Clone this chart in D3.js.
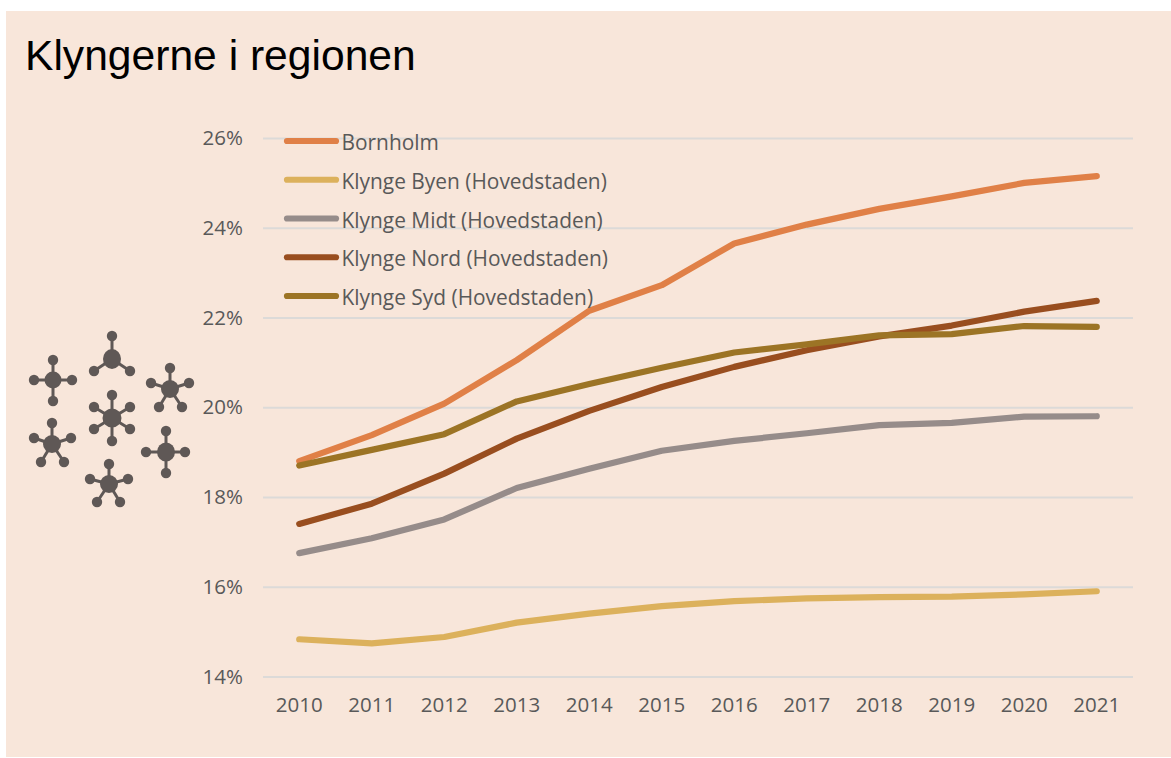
<!DOCTYPE html>
<html><head><meta charset="utf-8">
<script src="https://cdn.jsdelivr.net/npm/d3@7"></script>
<style>html,body{margin:0;padding:0;background:#fff;overflow:hidden}svg{display:block}</style>
</head><body><svg id="c" width="1171" height="758"></svg>
<script>
const years = ["2010","2011","2012","2013","2014","2015","2016","2017","2018","2019","2020","2021"];
const yTicks = [14,16,18,20,22,24,26];
const seriesNames = ["Bornholm","Klynge Byen (Hovedstaden)","Klynge Midt (Hovedstaden)","Klynge Nord (Hovedstaden)","Klynge Syd (Hovedstaden)"];
const seriesColors = ["#e08047","#dcb15c","#968c8a","#994e1f","#9c7425"];
const bornholm = [18.8,19.38,20.08,21.05,22.15,22.72,23.65,24.07,24.42,24.7,25.0,25.15];
const byen = [14.83,14.74,14.88,15.2,15.4,15.57,15.68,15.74,15.77,15.78,15.83,15.9];
const midt = [16.75,17.08,17.5,18.2,18.63,19.03,19.25,19.42,19.6,19.65,19.79,19.8];
const nord = [17.4,17.85,18.52,19.3,19.92,20.45,20.9,21.27,21.58,21.82,22.13,22.37];
const syd = [18.7,19.05,19.4,20.13,20.52,20.88,21.22,21.4,21.6,21.63,21.81,21.79];
const allSeries = [bornholm,byen,midt,nord,syd];
const iconCenters = [[53,380,8,8],[112,359,8.5,9.5],[170,389,8.5,8.5],[112,418,9,9],[52,444,8.5,8.5],[166,452,8.5,9],[109,484,8.5,8.5]];
const iconSats = [
 [[53,360],[34,380],[72,380],[53,401]],
 [[112,336],[94,371],[130,371]],
 [[170,368],[151,383],[189,383],[159,407],[182,407]],
 [[112,395],[94,407],[130,407],[94,429],[130,429],[112,441]],
 [[52,423],[34,438],[71,438],[41,462],[64,462]],
 [[166,431],[146,452],[185,452],[166,473]],
 [[109,464],[90,479],[128,479],[97,502],[120,502]]
];
const svg = d3.select("#c");
const sans = "'Open Sans','Noto Sans',sans-serif";
svg.append("rect").attr("x",6).attr("y",11).attr("width",1165).attr("height",746).attr("fill","#f8e6da");
svg.append("text").attr("x",25).attr("y",70).attr("font-family","'Liberation Sans',Arial,sans-serif").attr("font-size",42.6).attr("fill","#000").text("Klyngerne i regionen");

const x = d3.scaleBand().domain(years).range([263,1133]);
const y = d3.scaleLinear().domain([14,26]).range([676.5,138]);

const yAxis = svg.append("g").attr("transform","translate(263,0)")
  .call(d3.axisLeft(y).tickValues(yTicks).tickSize(-870).tickPadding(20).tickFormat(d=>d+"%"));
yAxis.select(".domain").remove();
yAxis.selectAll("line").attr("stroke","#dcdad8").attr("stroke-width",2);
const xAxis = svg.append("g").attr("transform","translate(0,676.5)")
  .call(d3.axisBottom(x).tickSize(0).tickPadding(21));
xAxis.select(".domain").remove();
[yAxis,xAxis].forEach(a=>a.selectAll("text").attr("font-family",sans).attr("font-size",20.5).attr("fill","#595959"));

const line = d3.line().x((d,i)=>x(years[i])+x.bandwidth()/2).y(d=>y(d)).curve(d3.curveLinear);
svg.append("g").selectAll("path").data(allSeries).join("path")
  .attr("d",line).attr("fill","none").attr("stroke",(d,i)=>seriesColors[i])
  .attr("stroke-width",6.2).attr("stroke-linecap","round").attr("stroke-linejoin","round");

const legY = d3.scalePoint().domain(seriesNames).range([141,296]);
const leg = svg.append("g").selectAll("g").data(seriesNames).join("g").attr("transform",d=>`translate(0,${legY(d)})`);
leg.append("line").attr("x1",287).attr("x2",336).attr("stroke",(d,i)=>seriesColors[i]).attr("stroke-width",6.2).attr("stroke-linecap","round");
leg.append("text").attr("x",341.5).attr("y",9).attr("font-family",sans).attr("font-size",20.9).attr("fill","#595959").text(d=>d);

const icons = svg.append("g").attr("fill","#5f5856").attr("stroke","#5f5856");
iconCenters.forEach((c,i)=>{
  const g = icons.append("g");
  g.selectAll("line").data(iconSats[i]).join("line")
    .attr("x1",c[0]).attr("y1",c[1]).attr("x2",d=>d[0]).attr("y2",d=>d[1]).attr("stroke-width",3);
  g.selectAll("circle").data(iconSats[i]).join("circle")
    .attr("cx",d=>d[0]).attr("cy",d=>d[1]).attr("r",5.2).attr("stroke","none");
  g.append("ellipse").attr("cx",c[0]).attr("cy",c[1]).attr("rx",c[2]+0.5).attr("ry",c[3]+0.5).attr("stroke","none");
});
</script></body></html>
